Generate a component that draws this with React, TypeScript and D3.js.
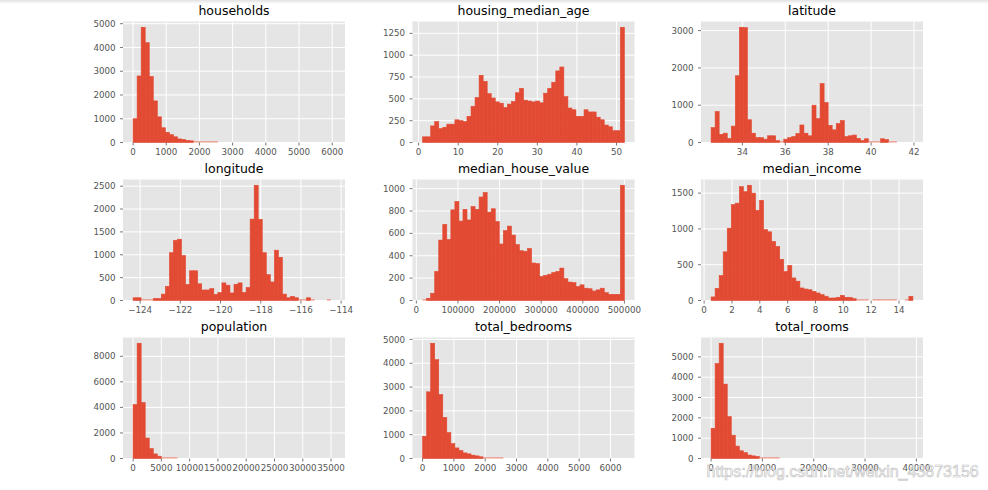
import React from "react";
import * as d3 from "d3";

// ---------- data (counts per 50 equal bins) ----------
const titles = [
  "households",
  "housing_median_age",
  "latitude",
  "longitude",
  "median_house_value",
  "median_income",
  "population",
  "total_bedrooms",
  "total_rooms",
];

const households = [1000, 2800, 4850, 4200, 2780, 1750, 1080, 620, 430, 330, 240, 150, 130, 90, 70, 55, 40, 30, 25, 18, 12, 10, 8, 6, 5, 4, 3, 3, 2, 2, 1, 2, 1, 1, 0, 1, 1, 0, 1, 0, 0, 1, 0, 0, 0, 1, 0, 0, 0, 1];
const housingMedianAge = [65, 65, 190, 240, 160, 175, 210, 210, 260, 250, 240, 300, 415, 515, 770, 700, 560, 510, 465, 450, 400, 440, 470, 570, 620, 485, 475, 465, 475, 455, 565, 620, 690, 820, 865, 525, 395, 375, 300, 300, 375, 350, 350, 290, 260, 200, 180, 135, 135, 1320];
const latitude = [400, 830, 220, 250, 110, 440, 1790, 3090, 3080, 610, 250, 130, 130, 90, 180, 180, 50, 30, 90, 130, 160, 240, 470, 250, 180, 1000, 640, 1580, 1070, 460, 340, 510, 590, 160, 180, 200, 110, 50, 100, 30, 30, 30, 100, 80, 25, 10, 5, 3, 2, 3];
const longitude = [60, 60, 20, 20, 20, 45, 45, 140, 310, 1045, 1315, 1340, 985, 350, 650, 650, 365, 230, 230, 260, 135, 175, 385, 335, 165, 355, 385, 175, 285, 1780, 2520, 1775, 1045, 565, 405, 1100, 945, 140, 60, 90, 60, 20, 20, 60, 15, 3, 2, 1, 15, 1];
const medianHouseValue = [10, 20, 65, 260, 540, 680, 545, 810, 885, 710, 815, 720, 840, 815, 925, 965, 790, 820, 705, 505, 625, 665, 585, 500, 445, 440, 465, 335, 330, 215, 225, 235, 250, 260, 290, 195, 165, 160, 125, 140, 110, 105, 85, 95, 110, 70, 55, 55, 55, 1030];
const medianIncome = [50, 170, 350, 680, 1010, 1340, 1360, 1590, 1520, 1610, 1500, 1260, 1400, 990, 960, 825, 755, 575, 405, 490, 315, 270, 175, 160, 150, 128, 105, 82, 60, 35, 35, 45, 72, 45, 42, 25, 15, 10, 5, 3, 10, 10, 5, 12, 12, 4, 3, 2, 5, 58];
const population = [4220, 9020, 4380, 1600, 770, 360, 180, 110, 60, 35, 20, 12, 8, 5, 4, 3, 2, 2, 1, 1, 1, 1, 0, 0, 1, 0, 0, 0, 0, 0, 0, 0, 0, 0, 0, 0, 0, 0, 0, 0, 0, 0, 0, 0, 0, 0, 0, 0, 0, 1];
const totalBedrooms = [935, 2800, 4840, 4150, 2685, 1725, 1090, 625, 445, 335, 235, 195, 140, 110, 70, 60, 35, 30, 20, 15, 10, 8, 6, 5, 3, 2, 2, 1, 1, 1, 1, 0, 1, 0, 1, 0, 0, 0, 0, 0, 1, 0, 0, 0, 0, 0, 0, 0, 0, 1];
const totalRooms = [1485, 4670, 5670, 3660, 2060, 1145, 610, 380, 290, 170, 130, 100, 70, 45, 35, 25, 18, 12, 10, 8, 5, 3, 3, 2, 2, 1, 1, 1, 1, 0, 1, 1, 0, 0, 0, 0, 0, 0, 0, 0, 0, 0, 1, 0, 0, 0, 0, 0, 0, 1];

const dataMin = [1, 1, 32.54, -124.35, 14999, 0.4999, 3, 1, 2];
const dataMax = [6082, 52, 41.95, -114.31, 500001, 15.0001, 35682, 6445, 39320];

const xTicks = [
  [0, 1000, 2000, 3000, 4000, 5000, 6000],
  [0, 10, 20, 30, 40, 50],
  [34, 36, 38, 40, 42],
  [-124, -122, -120, -118, -116, -114],
  [0, 100000, 200000, 300000, 400000, 500000],
  [0, 2, 4, 6, 8, 10, 12, 14],
  [0, 5000, 10000, 15000, 20000, 25000, 30000, 35000],
  [0, 1000, 2000, 3000, 4000, 5000, 6000],
  [0, 10000, 20000, 30000, 40000],
];
const yTicks = [
  [0, 1000, 2000, 3000, 4000, 5000],
  [0, 250, 500, 750, 1000, 1250],
  [0, 1000, 2000, 3000],
  [0, 500, 1000, 1500, 2000, 2500],
  [0, 200, 400, 600, 800, 1000],
  [0, 500, 1000, 1500],
  [0, 2000, 4000, 6000, 8000],
  [0, 1000, 2000, 3000, 4000, 5000],
  [0, 1000, 2000, 3000, 4000, 5000],
];

const counts = [households, housingMedianAge, latitude, longitude, medianHouseValue, medianIncome, population, totalBedrooms, totalRooms];

const watermark = "https://blog.csdn.net/weixin_43873156";

// ---------- layout ----------
const W = 988;
const H = 490;
const colLeft = [123, 412.5, 701];
const rowTop = [21.5, 179.5, 337.5];
const PW = 222;
const PH = 121;
const FONT = "DejaVu Sans, sans-serif";
const BG = "#E5E5E5";
const RED = "#E24A33";
const TICK = "#555555";

const fmt = (v: number) => String(v).replace("-", "\u2212");

function Panel({ i }: { i: number }) {
  const left = colLeft[i % 3];
  const top = rowTop[Math.floor(i / 3)];
  const c = counts[i];
  const lo = dataMin[i];
  const hi = dataMax[i];
  const span = hi - lo;
  const bw = span / c.length;
  const x = d3.scaleLinear().domain([lo - 0.05 * span, hi + 0.05 * span]).range([left, left + PW]);
  const maxC = d3.max(c) as number;
  const y = d3.scaleLinear().domain([0, maxC * 1.05]).range([top + PH, top]);
  const bottom = top + PH;
  return (
    <g>
      <rect x={left} y={top} width={PW} height={PH} fill={BG} />
      {xTicks[i].map((t) => (
        <line key={"gx" + t} x1={x(t)} x2={x(t)} y1={top} y2={bottom} stroke="#fff" strokeWidth={1} />
      ))}
      {yTicks[i].map((t) => (
        <line key={"gy" + t} x1={left} x2={left + PW} y1={y(t)} y2={y(t)} stroke="#fff" strokeWidth={1} />
      ))}
      {c.map((v, k) => {
        if (v <= 0) return null;
        const h = y(0) - y(v);
        if (h < 0.25) return null;
        const tiny = h < 1.5;
        return (
          <rect
            key={"b" + k}
            x={x(lo + k * bw)}
            y={tiny ? y(0) - 1.3 : y(v)}
            width={x(lo + (k + 1) * bw) - x(lo + k * bw)}
            height={tiny ? 1.3 : h}
            fill={tiny ? "#EE9485" : RED}
            stroke={tiny ? "none" : RED}
            strokeWidth={0.6}
          />
        );
      })}
      {xTicks[i].map((t) => (
        <g key={"tx" + t}>
          <line x1={x(t)} x2={x(t)} y1={bottom} y2={bottom + 3} stroke={TICK} strokeWidth={0.8} />
          <text x={x(t)} y={bottom + 12.5} textAnchor="middle" fontSize={8.7} fill={TICK} fontFamily={FONT}>
            {fmt(t)}
          </text>
        </g>
      ))}
      {yTicks[i].map((t) => (
        <g key={"ty" + t}>
          <line x1={left - 3} x2={left} y1={y(t)} y2={y(t)} stroke={TICK} strokeWidth={0.8} />
          <text x={left - 7.5} y={y(t) + 3.1} textAnchor="end" fontSize={8.7} fill={TICK} fontFamily={FONT}>
            {fmt(t)}
          </text>
        </g>
      ))}
      <text x={left + PW / 2} y={top - 6.5} textAnchor="middle" fontSize={12.5} fill="#000" fontFamily={FONT}>
        {titles[i]}
      </text>
    </g>
  );
}

export default function App() {
  return (
    <svg
      width={W}
      height={H}
      viewBox={`0 0 ${W} ${H}`}
      style={{ position: "absolute", left: 0, top: 0, display: "block", background: "#fff" }}
    >
      <defs>
        <linearGradient id="topShade" x1="0" y1="0" x2="0" y2="1">
          <stop offset="0" stopColor="#e2e2e2" />
          <stop offset="1" stopColor="#ffffff" />
        </linearGradient>
      </defs>
      <rect x={0} y={0} width={W} height={H} fill="#fff" />
      <rect x={0} y={0} width={W} height={4} fill="url(#topShade)" />
      {titles.map((_, i) => (
        <Panel key={i} i={i} />
      ))}
      <text
        x={706.5}
        y={477}
        fontSize={16}
        fontFamily="Liberation Sans, Arial, sans-serif"
        fill="#ffffff"
        fillOpacity={0.75}
        stroke="#bdbdbd"
        strokeWidth={0.6}
      >
        {watermark}
      </text>
    </svg>
  );
}
